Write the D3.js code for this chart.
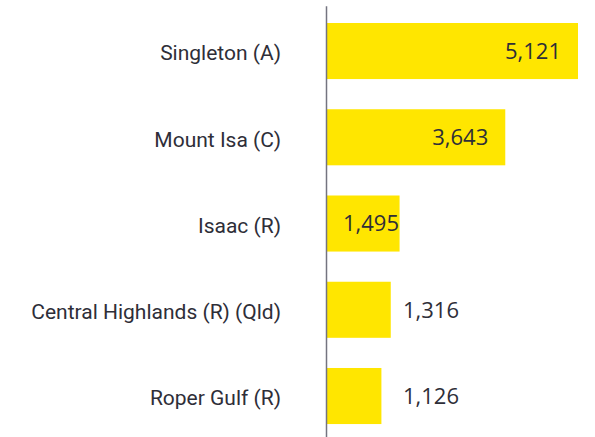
<!DOCTYPE html>
<html><head><meta charset="utf-8">
<script src="https://cdn.jsdelivr.net/npm/d3@7"></script>
<style>body{margin:0;background:#fff}</style>
</head><body>
<svg id="c" width="595" height="437"></svg>
<script>
const categories = ["Singleton (A)", "Mount Isa (C)", "Isaac (R)", "Central Highlands (R) (Qld)", "Roper Gulf (R)"];
const values = [5121, 3643, 1495, 1316, 1126];

const svg = d3.select("#c");
const x0 = 326;
const x = d3.scaleLinear().domain([0, 5121]).range([x0, 578]);
const y = d3.scaleBand().domain(categories).range([5.75, 441.3]).paddingInner(0.35).paddingOuter(0.2);
const fmt = d3.format(",");
const data = categories.map((c, i) => ({c, v: values[i]}));

svg.selectAll("rect.bar").data(data).join("rect")
  .attr("class", "bar")
  .attr("x", x(0))
  .attr("y", d => y(d.c))
  .attr("width", d => x(d.v) - x(0))
  .attr("height", y.bandwidth())
  .attr("fill", "#FFE600");

const axis = svg.append("g").attr("transform", `translate(${x0},0)`)
  .call(d3.axisLeft(y).tickSize(0).tickSizeOuter(0).tickPadding(45));
axis.select(".domain").attr("stroke", "#747480").attr("stroke-width", 1.5);
axis.selectAll(".tick text")
  .attr("font-family", "Roboto").attr("font-size", 21).attr("fill", "#2e2e38")
  .attr("dy", "0.45em");

const labels = svg.selectAll("text.val").data(data).join("text")
  .attr("class", "val")
  .attr("font-family", "Open Sans").attr("font-size", 22).attr("fill", "#2e2e38")
  .attr("y", d => y(d.c) + y.bandwidth() / 2)
  .attr("dy", "0.36em")
  .text(d => fmt(d.v));

labels.each(function(d) {
  const w = this.getComputedTextLength();
  const t = d3.select(this);
  if (d.v > 1400) {
    const end = Math.max(x(d.v) - 17, x(0) + 17 + w);
    t.attr("x", end).attr("text-anchor", "end");
  } else {
    t.attr("x", Math.max(x(d.v) + 12, x(0) + 77)).attr("text-anchor", "start");
  }
});
</script>
</body></html>
